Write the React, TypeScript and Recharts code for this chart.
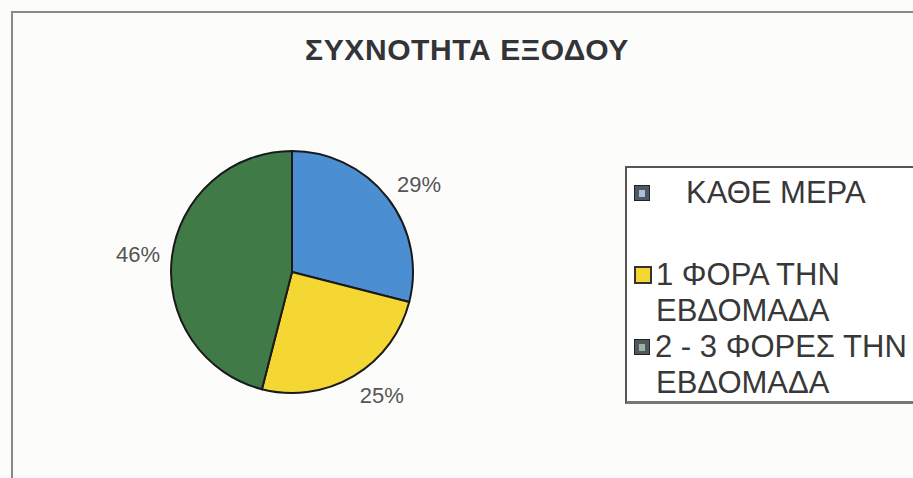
import { PieChart, Pie, Cell, Legend } from "recharts"

const categories = ["ΚΑΘΕ ΜΕΡΑ", "1 ΦΟΡΑ ΤΗΝ ΕΒΔΟΜΑΔΑ", "2 - 3 ΦΟΡΕΣ ΤΗΝ ΕΒΔΟΜΑΔΑ"]
const shares = [29, 25, 46]
const colors = ["#4b8fd2", "#f5d733", "#3f7a47"]
const legendLines = [["ΚΑΘΕ ΜΕΡΑ"], ["1 ΦΟΡΑ ΤΗΝ", "ΕΒΔΟΜΑΔΑ"], ["2 - 3 ΦΟΡΕΣ ΤΗΝ", "ΕΒΔΟΜΑΔΑ"]]

const data = categories.map((name, i) => ({ name, value: shares[i] }))

const RADIAN = Math.PI / 180
const font = "'Liberation Sans', Arial, sans-serif"

// label sits just outside the slice, anchored on the side facing away from the pie
function renderLabel(props: any) {
  const { cx, cy, midAngle, outerRadius, value } = props
  const r = outerRadius + 12
  const dx = Math.cos(-midAngle * RADIAN)
  const dy = Math.sin(-midAngle * RADIAN)
  const x = cx + r * dx
  const y = cy + r * dy + 10 * dy
  return (
    <text x={x} y={y} fill="#555" fontSize={22} fontFamily={font} textAnchor={dx >= 0 ? "start" : "end"} dominantBaseline="central">
      {value}%
    </text>
  )
}

function Icon({ i }: { i: number }) {
  if (i === 1) {
    return <span style={{ display: "inline-block", width: 14, height: 14, background: colors[1], border: "2px solid #333", marginRight: 4 }} />
  }
  return (
    <span style={{ display: "inline-block", width: 14, height: 14, background: "#505860", border: "1px solid #222", marginRight: i === 0 ? 36 : 5, position: "relative" }}>
      <span style={{ position: "absolute", left: 4, top: 4, width: 6, height: 7, background: i === 0 ? "#a9c3dd" : "#9bb39f" }} />
    </span>
  )
}

function LegendBox() {
  return (
    <div style={{ border: "2px solid #555", borderBottom: "3px solid #777", height: 238, boxSizing: "border-box", padding: "7px 0 0 7px", fontFamily: font, fontSize: 31, color: "#383838", lineHeight: "36px", background: "#fff" }}>
      {legendLines.map((lines, i) => (
        <div key={i} style={{ marginBottom: i === 0 ? 46 : 0 }}>
          {lines.map((t, j) => (
            <div key={j} style={{ display: "flex", alignItems: "center", paddingLeft: j > 0 ? 22 : 0, whiteSpace: "nowrap" }}>
              {j === 0 && <Icon i={i} />}
              <span>{t}</span>
            </div>
          ))}
        </div>
      ))}
    </div>
  )
}

export default function App() {
  return (
    <div style={{ position: "absolute", left: 0, top: 0, width: 913, height: 478, background: "#fcfdfb", overflow: "hidden" }}>
      <div style={{ position: "absolute", left: 11, top: 11, width: 940, height: 500, border: "2px solid #8a8a8a" }} />
      <div style={{ position: "absolute", left: 0, top: 33, width: 934, textAlign: "center", fontFamily: font, fontWeight: "bold", fontSize: 30, letterSpacing: 0.6, color: "#333338" }}>
        ΣΥΧΝΟΤΗΤΑ ΕΞΟΔΟΥ
      </div>
      <div style={{ position: "absolute", left: 0, top: 0 }}>
        <PieChart width={913} height={478} margin={{ top: 0, right: 0, bottom: 0, left: 0 }}>
          <Pie
            data={data}
            dataKey="value"
            nameKey="name"
            cx={292}
            cy={272}
            outerRadius={121}
            startAngle={90}
            endAngle={-270}
            stroke="#1a1a1a"
            strokeWidth={2}
            label={renderLabel}
            labelLine={false}
            isAnimationActive={false}
          >
            {data.map((d, i) => (
              <Cell key={d.name} fill={colors[i]} />
            ))}
          </Pie>
          <Legend
            layout="vertical"
            align="right"
            verticalAlign="top"
            wrapperStyle={{ left: 625, top: 166, right: "auto", width: 320 }}
            content={() => <LegendBox />}
          />
        </PieChart>
      </div>
    </div>
  )
}
